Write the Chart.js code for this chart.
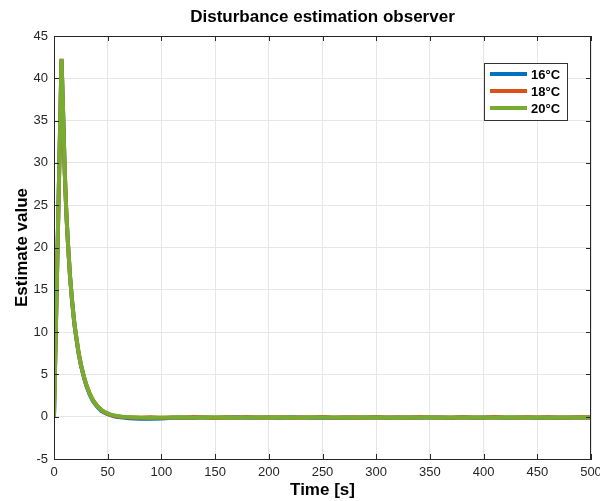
<!DOCTYPE html>
<html>
<head>
<meta charset="utf-8">
<script src="https://cdn.jsdelivr.net/npm/chart.js@4"></script>
<style>
  html, body { margin: 0; padding: 0; background: #fff; }
</style>
</head>
<body>
<canvas id="obsChart" width="600" height="501"></canvas>
<script>
/* ======================================
   DATA
====================================== */
const seriesLabels = ["16°C", "18°C", "20°C"];
const seriesColors = ["#0072BD", "#D95319", "#77AC30"];

const timeSec = [0, 3.5, 7, 8.5, 10, 11.5, 13, 15, 17, 19, 21, 23, 25, 27.5, 30, 33, 36, 40, 44, 48, 53, 58, 64,
  70, 80, 90, 100, 110, 120, 130, 140, 150, 160, 170, 180, 190, 200, 210, 220, 230, 240, 250, 260, 270, 280,
  290, 300, 310, 320, 330, 340, 350, 360, 370, 380, 390, 400, 410, 420, 430, 440, 450, 460, 470, 480, 490, 500];

const est16 = [0, 21, 42.2, 35.8, 28.9, 24.0, 20.4, 16.4, 13.4, 10.9, 9.1, 7.4, 6.1, 4.8, 3.7, 2.7, 1.9, 1.2, 0.7, 0.4, 0.15, 0.0, -0.1,
  -0.18, -0.25, -0.24, -0.2, -0.12, -0.1, -0.14, -0.08, -0.12, -0.1, -0.06, -0.13, -0.1, -0.09, -0.12, -0.07, -0.1, -0.13, -0.09, -0.11,
  -0.08, -0.12, -0.1, -0.07, -0.12, -0.1, -0.09, -0.13, -0.08, -0.1, -0.11, -0.07, -0.12, -0.1, -0.09, -0.12, -0.08, -0.1, -0.11, -0.09,
  -0.12, -0.08, -0.1, -0.1];

const est18 = [0, 21, 42.3, 35.9, 29.0, 24.0, 20.5, 16.5, 13.5, 11.0, 9.2, 7.5, 6.2, 4.9, 3.8, 2.8, 2.0, 1.3, 0.8, 0.45, 0.2, 0.05, -0.05,
  -0.1, -0.12, -0.06, -0.14, -0.08, -0.12, -0.04, -0.1, -0.14, -0.07, -0.11, -0.05, -0.12, -0.09, -0.06, -0.13, -0.08, -0.1, -0.05, -0.12,
  -0.09, -0.07, -0.13, -0.06, -0.1, -0.08, -0.12, -0.05, -0.1, -0.09, -0.13, -0.06, -0.08, -0.11, -0.05, -0.1, -0.12, -0.07, -0.09, -0.06,
  -0.1, -0.13, -0.07, -0.1];

const est20 = [0, 21, 42.3, 36.0, 29.0, 24.1, 20.5, 16.5, 13.5, 11.0, 9.2, 7.5, 6.2, 4.9, 3.8, 2.8, 2.0, 1.3, 0.8, 0.5, 0.25, 0.1, 0.0,
  -0.05, -0.1, -0.12, -0.08, -0.1, -0.07, -0.11, -0.09, -0.06, -0.1, -0.12, -0.08, -0.1, -0.07, -0.1, -0.09, -0.11, -0.06, -0.1, -0.08,
  -0.11, -0.1, -0.07, -0.1, -0.09, -0.12, -0.08, -0.1, -0.07, -0.11, -0.09, -0.1, -0.08, -0.1, -0.11, -0.07, -0.1, -0.09, -0.1, -0.12,
  -0.08, -0.1, -0.09, -0.1];

const xTicks = [0, 50, 100, 150, 200, 250, 300, 350, 400, 450, 500];
const yTicks = [-5, 0, 5, 10, 15, 20, 25, 30, 35, 40, 45];
const chartTitle = "Disturbance estimation observer";

const toPoints = (vals) => vals.map((v, i) => ({ x: timeSec[i], y: v }));
const allSeries = [est16, est18, est20];
const FONT = "'Liberation Sans', Arial, sans-serif";

/* ======================================
   TITLE + BOX + LEGEND (MATLAB style)
====================================== */
const boxLegend = {
  id: "boxLegend",
  afterDraw(chart) {
    const { ctx, chartArea: a } = chart;
    ctx.save();

    // title centred over the axes
    ctx.font = "bold 17px " + FONT;
    ctx.fillStyle = "#000";
    ctx.textAlign = "center";
    ctx.textBaseline = "middle";
    ctx.fillText(chartTitle, (a.left + a.right) / 2, 17);

    ctx.strokeStyle = "#262626";
    ctx.lineWidth = 1;
    ctx.strokeRect(a.left + 0.5, a.top + 0.5, a.right - a.left - 1, a.bottom - a.top);

    // inside tick marks
    const xs = chart.scales.x, ys = chart.scales.y;
    ctx.beginPath();
    xTicks.forEach(t => {
      const px = Math.round(xs.getPixelForValue(t)) + 0.5;
      ctx.moveTo(px, a.bottom); ctx.lineTo(px, a.bottom - 5);
      ctx.moveTo(px, a.top); ctx.lineTo(px, a.top + 5);
    });
    yTicks.forEach(t => {
      const py = Math.round(ys.getPixelForValue(t)) + 0.5;
      ctx.moveTo(a.left, py); ctx.lineTo(a.left + 5, py);
      ctx.moveTo(a.right, py); ctx.lineTo(a.right - 5, py);
    });
    ctx.stroke();

    // legend box
    const bx = 484, by = 63, bw = 83, bh = 57;
    ctx.fillStyle = "#fff";
    ctx.fillRect(bx, by, bw, bh);
    ctx.strokeStyle = "#333";
    ctx.lineWidth = 1;
    ctx.strokeRect(bx + 0.5, by + 0.5, bw, bh);
    ctx.font = "bold 13px " + FONT;
    ctx.textAlign = "left";
    ctx.textBaseline = "middle";
    seriesLabels.forEach((lab, i) => {
      const y = by + 11 + i * 17;
      ctx.strokeStyle = seriesColors[i];
      ctx.lineWidth = 4;
      ctx.beginPath();
      ctx.moveTo(490, y); ctx.lineTo(527, y);
      ctx.stroke();
      ctx.fillStyle = "#000";
      ctx.fillText(lab, 531, y + 1);
    });
    ctx.restore();
  }
};

/* ======================================
   CHART
====================================== */
new Chart(document.getElementById("obsChart"), {
  type: "line",
  data: {
    datasets: allSeries.map((vals, i) => ({
      label: seriesLabels[i],
      data: toPoints(vals),
      borderColor: seriesColors[i],
      borderWidth: 4,
      pointRadius: 0,
      tension: 0,
      fill: false,
      order: 3 - i
    }))
  },
  plugins: [boxLegend],
  options: {
    responsive: false,
    animation: false,
    devicePixelRatio: 1,
    layout: { padding: { top: 36, right: 9, bottom: 0, left: 0 } },
    plugins: {
      legend: { display: false },
      tooltip: { enabled: false },
      title: { display: false }
    },
    scales: {
      x: {
        type: "linear",
        min: 0, max: 500,
        afterBuildTicks: (s) => { s.ticks = xTicks.map(v => ({ value: v })); },
        afterFit: (s) => { s.height = 42; s.paddingRight = 0; s.paddingLeft = 0; },
        ticks: { color: "#262626", font: { family: FONT, size: 13 }, padding: 6, maxRotation: 0, autoSkip: false },
        grid: { color: "#e6e6e6", drawTicks: false },
        border: { color: "#262626" },
        title: {
          display: true, text: "Time [s]", color: "#000",
          font: { family: FONT, size: 17, weight: "bold" },
          padding: { top: 0, bottom: 0 }
        }
      },
      y: {
        min: -5, max: 45,
        afterBuildTicks: (s) => { s.ticks = yTicks.map(v => ({ value: v })); },
        afterFit: (s) => { s.width = 54; s.paddingTop = 0; s.paddingBottom = 0; },
        ticks: { color: "#262626", font: { family: FONT, size: 13 }, padding: 6, autoSkip: false },
        grid: { color: "#e6e6e6", drawTicks: false },
        border: { color: "#262626" },
        title: {
          display: true, text: "Estimate value", color: "#000",
          font: { family: FONT, size: 17, weight: "bold" },
          padding: { top: 12, bottom: 4 }
        }
      }
    }
  }
});
</script>
</body>
</html>
